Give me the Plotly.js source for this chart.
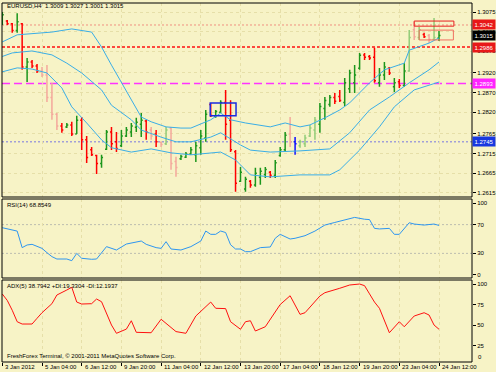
<!DOCTYPE html>
<html><head><meta charset="utf-8">
<script src="https://cdn.plot.ly/plotly-3.0.1.min.js"></script>
<style>html,body{margin:0;padding:0;background:#F7F3C6;}</style>
</head><body><div id="chart" style="width:496px;height:372px;"></div>
<script>
// ---- DATA (EURUSD H4) ----
const symbolLabel = 'EURUSD,H4';
const opens = [1.3045,1.3052,1.3045,1.3028,1.3045,1.2935,1.2948,1.2938,1.2925,1.2915,
 1.2858,1.2815,1.2785,1.2783,1.2788,1.2765,1.2800,1.2750,1.2725,1.2710,
 1.2690,1.2726,1.2770,1.2745,1.2735,1.2760,1.2770,1.2782,1.2790,1.2798,
 1.2775,1.2765,1.2744,1.2740,1.2780,1.2695,1.2702,1.2706,1.2714,1.2712,
 1.2730,1.2755,1.2840,1.2810,1.2820,1.2845,1.2800,1.2720,1.2645,1.2625,
 1.2645,1.2635,1.2655,1.2662,1.2668,1.2660,1.2710,1.2725,1.2765,1.2745,
 1.2735,1.2740,1.2760,1.2775,1.2790,1.2830,1.2840,1.2858,1.2860,1.2845,
 1.2880,1.2895,1.2932,1.2966,1.2962,1.2960,1.2895,1.2915,1.2932,1.2885,
 1.2898,1.2888,1.2925,1.3030,1.3010,1.3018,1.3015,1.3005,1.3009];
const highs = [1.3075,1.3055,1.3047,1.3072,1.3047,1.2958,1.2953,1.2943,1.2935,1.2940,
 1.2895,1.2818,1.2793,1.2793,1.2796,1.2811,1.2808,1.2760,1.2732,1.2712,
 1.2712,1.2775,1.2783,1.2770,1.2775,1.2783,1.2793,1.2806,1.2818,1.2801,
 1.2783,1.2775,1.2745,1.2783,1.2783,1.2707,1.2712,1.2719,1.2732,1.2745,
 1.2775,1.2826,1.2844,1.2826,1.2851,1.2877,1.2851,1.2724,1.2681,1.2656,
 1.2648,1.2679,1.2679,1.2681,1.2671,1.2699,1.2732,1.2770,1.2808,1.2757,
 1.2750,1.2763,1.2788,1.2808,1.2844,1.2859,1.2864,1.2869,1.2877,1.2907,
 1.2928,1.2940,1.2971,1.2971,1.2966,1.2984,1.2933,1.2948,1.2935,1.2907,
 1.2905,1.2945,1.3029,1.3050,1.3037,1.3022,1.3019,1.3060,1.3027];
const lows = [1.3042,1.3042,1.3022,1.3022,1.2928,1.2897,1.2933,1.2920,1.2910,1.2846,
 1.2801,1.2775,1.2768,1.2780,1.2760,1.2765,1.2724,1.2691,1.2709,1.2663,
 1.2679,1.2724,1.2724,1.2719,1.2732,1.2757,1.2757,1.2770,1.2757,1.2750,
 1.2750,1.2732,1.2732,1.2737,1.2674,1.2656,1.2699,1.2704,1.2712,1.2694,
 1.2712,1.2745,1.2808,1.2806,1.2818,1.2750,1.2719,1.2618,1.2643,1.2618,
 1.2628,1.2631,1.2636,1.2653,1.2653,1.2653,1.2707,1.2719,1.2732,1.2712,
 1.2730,1.2732,1.2757,1.2750,1.2768,1.2801,1.2834,1.2841,1.2846,1.2836,
 1.2869,1.2869,1.2928,1.2953,1.2953,1.2895,1.2885,1.2902,1.2915,1.2872,
 1.2882,1.2885,1.2923,1.3004,1.3004,1.3009,1.2996,1.3004,1.3001];
const closes = [1.3068,1.3045,1.3028,1.3050,1.2935,1.2948,1.2938,1.2925,1.2915,1.2858,
 1.2815,1.2785,1.2775,1.2788,1.2765,1.2800,1.2750,1.2705,1.2712,1.2690,
 1.2705,1.2770,1.2740,1.2728,1.2760,1.2775,1.2785,1.2795,1.2800,1.2770,
 1.2760,1.2745,1.2738,1.2775,1.2690,1.2680,1.2708,1.2714,1.2725,1.2735,
 1.2760,1.2815,1.2812,1.2822,1.2845,1.2790,1.2725,1.2640,1.2668,1.2650,
 1.2635,1.2665,1.2670,1.2675,1.2660,1.2692,1.2725,1.2762,1.2745,1.2740,
 1.2745,1.2755,1.2780,1.2800,1.2835,1.2850,1.2858,1.2848,1.2850,1.2895,
 1.2920,1.2915,1.2965,1.2960,1.2958,1.2900,1.2915,1.2935,1.2920,1.2895,
 1.2888,1.2925,1.3010,1.3012,1.3030,1.3012,1.3005,1.3010,1.3015];
// bars drawn faded / highlighted in the original terminal
const fadedBars = [8,9,10,11,30,32,33,34,35,58,60,61,62,63,82,83,84,86,87];
const markedBars = [59];

// Bollinger bands (bar index, price)
const bbUpIdx = [0,3,10,14,18,20,22,24,26,28,30,33,36,38,42,44,46,49,54,57,60,62,65,68,70,74,77,81,82,86,88];
const bbUp = [1.2999,1.3017,1.3024,1.3032,1.3024,1.2986,1.2940,1.2895,1.2851,1.2808,1.2796,1.2783,1.2780,1.2780,1.2801,1.2818,1.2801,1.2793,1.2783,1.2793,1.2783,1.2788,1.2806,1.2826,1.2844,1.2895,1.2928,1.2945,1.2978,1.2996,1.3009];
const bbMidIdx = [0,2,6,10,13,16,20,22,26,28,32,35,38,42,44,48,50,54,60,66,70,74,78,82,86,88];
const bbMid = [1.2962,1.2971,1.2976,1.2966,1.2945,1.2920,1.2877,1.2838,1.2801,1.2775,1.2757,1.2745,1.2745,1.2757,1.2768,1.2737,1.2724,1.2719,1.2722,1.2727,1.2768,1.2826,1.2859,1.2895,1.2928,1.2948];
const bbLoIdx = [0,3,6,9,12,14,17,20,22,26,30,34,38,44,47,50,54,60,66,68,72,76,79,83,88];
const bbLo = [1.2923,1.2933,1.2930,1.2920,1.2882,1.2834,1.2793,1.2750,1.2730,1.2719,1.2727,1.2717,1.2712,1.2719,1.2699,1.2661,1.2656,1.2661,1.2661,1.2674,1.2724,1.2783,1.2834,1.2877,1.2897];

// horizontal levels
const levels = [1.3042, 1.2986, 1.2893, 1.2745];

// RSI(14)
const rsiIdx = [0,1,2,3,4,5,6,7,8,9,10,11,13,14,15,16,18,19,20,21,23,24,25,28,29,31,32,33,34,36,38,40,41,42,43,44,45,46,47,48,49,50,51,52,54,55,56,58,59,61,63,65,67,69,71,73,74,75,76,78,79,80,81,82,83,85,87,88];
const rsiVal = [65.7,63.9,62,61,38,41.7,42.6,39.4,37,31,25.5,22.2,22.2,19.9,30,23.2,21.8,22.2,30.1,39.4,34.7,39.4,43,47.2,42.6,38,37,46.3,36.1,34.7,39.4,47.2,61.1,56.5,56.5,61.1,59,42,36.1,36.1,32.4,32.4,35,38,38.9,51,56.5,50,51,54.6,61,69.4,73,76,80,77.5,77,64.8,64,64.8,56.5,56.5,63.9,72.6,70.8,69.4,70.8,68.85];
const rsiLevels = [30, 70];
const rsiTicks = [0, 30, 70, 100];
const rsiLabelValue = '68.8549';

// ADX(5)
const adxIdx = [0,1,2,3,4,6,7,8,10,11,13,14,15,16,18,19,20,22,23,25,26,27,30,32,35,37,39,42,43,45,46,48,49,50,51,53,56,58,60,61,64,65,68,70,72,73,74,75,76,78,80,81,83,85,86,87,88];
const adxVal = [87.8,80,68,54.0,51.2,51.2,58.2,65.0,76,86.6,92.7,96.0,78,75.6,76,81.7,78.4,50,39.9,45,55.2,41.1,40.6,57.0,42,39.9,61.0,78,70.4,70,54.0,44.8,54,55.2,42.7,47.9,75,85.7,63.0,65.0,85.4,89.4,94.8,98.8,100,98,88,78,70.4,40.6,54.0,47.9,61.0,65.0,62.2,50,44.8];
const adxTicks = [25, 50, 75, 100];
const adxLabelValues = ['38.7942', '19.3304', '12.1937'];

// axis labels
const xTickIdx = [0,8,16,24,32,40,48,56,64,72,80,88];
const xTickText = ['3 Jan 2012','5 Jan 04:00','6 Jan 12:00','9 Jan 20:00','11 Jan 04:00','12 Jan 12:00','13 Jan 20:00','17 Jan 04:00','18 Jan 12:00','19 Jan 20:00','23 Jan 04:00','24 Jan 12:00'];
const priceTicks = [1.3075,1.3025,1.2975,1.2920,1.2870,1.2820,1.2765,1.2715,1.2665,1.2615];
const copyright = 'FreshForex Terminal, © 2001-2011 MetaQuotes Software Corp.';

// ---- STYLE ----
const BG = '#F7F3C6';
const GRID = '#E6DFA8';
const FONT = 'Liberation Sans, Arial, sans-serif';
const FS = 6;
const levelStyles = [
  {color:'#F09080', dash:'2px,2px', width:1},
  {color:'#FF1010', dash:'3px,2px', width:1.5},
  {color:'#FF33FF', dash:'8px,4px', width:1.5},
  {color:'#7878E0', dash:'2px,2px', width:1}
];
const levelBoxColors = ['#E81818','#E81818','#FF22FF','#1838E0'];

const idx = opens.map((_, i) => i);
function pick(arr, set, keep) { return arr.filter((_, i) => keep ? set.includes(i) : !set.includes(i)); }
const special = fadedBars.concat(markedBars);

function ohlc(sel, keep, incCol, decCol, w) {
  return {
    type:'ohlc', xaxis:'x', yaxis:'y',
    x: pick(idx, sel, keep), open: pick(opens, sel, keep), high: pick(highs, sel, keep),
    low: pick(lows, sel, keep), close: pick(closes, sel, keep),
    increasing:{line:{color:incCol, width:w}}, decreasing:{line:{color:decCol, width:w}},
    tickwidth:0.3, hoverinfo:'skip', showlegend:false
  };
}

const bandStyle = {color:'#3AAEE6', width:1};
const traces = [
  {type:'scatter', mode:'lines', x:bbUpIdx, y:bbUp, line:bandStyle, xaxis:'x', yaxis:'y', hoverinfo:'skip'},
  {type:'scatter', mode:'lines', x:bbMidIdx, y:bbMid, line:bandStyle, xaxis:'x', yaxis:'y', hoverinfo:'skip'},
  {type:'scatter', mode:'lines', x:bbLoIdx, y:bbLo, line:bandStyle, xaxis:'x', yaxis:'y', hoverinfo:'skip'},
  ohlc(special, false, '#1C961C', '#FF0000', 1.5),
  ohlc(fadedBars, true, '#92CC78', '#F4A89C', 1.5),
  ohlc(markedBars, true, '#1010FF', '#1010FF', 1.5),
  {type:'scatter', mode:'lines', x:rsiIdx, y:rsiVal, line:{color:'#2E96F0', width:1}, xaxis:'x', yaxis:'y2', hoverinfo:'skip'},
  {type:'scatter', mode:'lines', x:adxIdx, y:adxVal, line:{color:'#FF1010', width:1}, xaxis:'x', yaxis:'y3', hoverinfo:'skip'}
];

const H = 359, BOT = 362;
const py = px => (BOT - px) / H;

const shapes = [];
['y','y2','y3'].forEach(a => shapes.push({type:'rect', xref:'paper', x0:0, x1:1, yref:a+' domain', y0:0, y1:1, line:{color:'#000', width:1}, layer:'above'}));
levels.forEach((v, i) => shapes.push({type:'line', xref:'paper', x0:0, x1:1, yref:'y', y0:v, y1:v, line:levelStyles[i], layer:'below'}));
rsiLevels.forEach(v => shapes.push({type:'line', xref:'paper', x0:0, x1:1, yref:'y2', y0:v, y1:v, line:{color:'#BDBDB0', dash:'2px,2px', width:1}, layer:'below'}));
// drawn objects on the chart
shapes.push({type:'rect', xref:'x', yref:'y', x0:41.9, x1:47.1, y0:1.2811, y1:1.2844, line:{color:'#1A2BE0', width:1.5}});
shapes.push({type:'rect', xref:'x', yref:'y', x0:83, x1:91, y0:1.3039, y1:1.3052, line:{color:'#E82020', width:1}});
shapes.push({type:'rect', xref:'x', yref:'y', x0:84, x1:90.9, y0:1.3004, y1:1.3029, line:{color:'#F07060', width:1}});

const annotations = [];
const n = opens.length - 1;
annotations.push({xref:'paper', yref:'paper', x:0.0064, y:py(6.5), xanchor:'left', yanchor:'middle', showarrow:false,
  text: symbolLabel + '  ' + [opens[n], highs[n], lows[n], closes[n]].map(v => v.toFixed(4)).join(' '), font:{size:FS, color:'#000'}});
annotations.push({xref:'paper', yref:'paper', x:0.0064, y:py(204.5), xanchor:'left', yanchor:'middle', showarrow:false,
  text:'RSI(14) ' + rsiLabelValue, font:{size:FS, color:'#000'}});
annotations.push({xref:'paper', yref:'paper', x:0.0064, y:py(285.5), xanchor:'left', yanchor:'middle', showarrow:false,
  text:'ADX(5) ' + adxLabelValues[0] + ' +DI:' + adxLabelValues[1] + ' -DI:' + adxLabelValues[2], font:{size:FS, color:'#000'}});
annotations.push({xref:'paper', yref:'paper', x:0.0064, y:py(356), xanchor:'left', yanchor:'middle', showarrow:false,
  text:copyright, font:{size:FS, color:'#000'}});
annotations.push({xref:'paper', yref:'paper', x:1, xshift:4, y:py(357), xanchor:'left', yanchor:'middle', showarrow:false,
  text:'0', font:{size:FS, color:'#000'}});
// x-axis labels, left-aligned just right of their tick like the terminal draws them
xTickIdx.forEach((v, i) => annotations.push({xref:'x', x:v, xshift:1, xanchor:'left', yref:'paper', y:py(367), yanchor:'middle',
  text:xTickText[i], showarrow:false, font:{size:FS, color:'#000'}}));
const boxVals = levels.concat([closes[n]]);
const boxCols = levelBoxColors.concat(['#000000']);
boxVals.forEach((v, i) => annotations.push({xref:'paper', x:1, xanchor:'left', yref:'y', y:v, yanchor:'middle',
  text:v.toFixed(4), showarrow:false, bgcolor:boxCols[i], font:{size:FS, color:'#FFFFFF'}, borderpad:1.5}));

const yCommon = {side:'right', anchor:'x', ticks:'outside', ticklen:3, tickcolor:'#000', zeroline:false, showline:false,
  tickfont:{size:FS, color:'#000', family:FONT}, fixedrange:true};

const layout = {
  width:496, height:372, margin:{l:2, r:24, t:3, b:10},
  paper_bgcolor:BG, plot_bgcolor:BG, showlegend:false, dragmode:false,
  font:{family:FONT, size:FS, color:'#000'},
  xaxis:{range:[-0.06, 94.65], anchor:'y3', tickmode:'array', tickvals:xTickIdx, showticklabels:false,
    ticks:'outside', ticklen:3, tickcolor:'#000',
    showgrid:true, gridcolor:GRID, griddash:'dot', gridwidth:1, zeroline:false, showline:false,
    rangeslider:{visible:false}, fixedrange:true},
  yaxis:Object.assign({}, yCommon, {domain:[py(197), 1], range:[1.26048, 1.30979], tickmode:'array', tickvals:priceTicks,
    tickformat:'.4f', showgrid:true, gridcolor:GRID, griddash:'dot'}),
  yaxis2:Object.assign({}, yCommon, {domain:[py(278), py(199)], range:[-4.2, 105.6], tickmode:'array', tickvals:rsiTicks, showgrid:false}),
  yaxis3:Object.assign({}, yCommon, {domain:[0, py(280)], range:[4.9, 104.9], tickmode:'array', tickvals:adxTicks, showgrid:false}),
  shapes:shapes, annotations:annotations
};

Plotly.newPlot('chart', traces, layout, {staticPlot:true, displayModeBar:false});
</script></body></html>
